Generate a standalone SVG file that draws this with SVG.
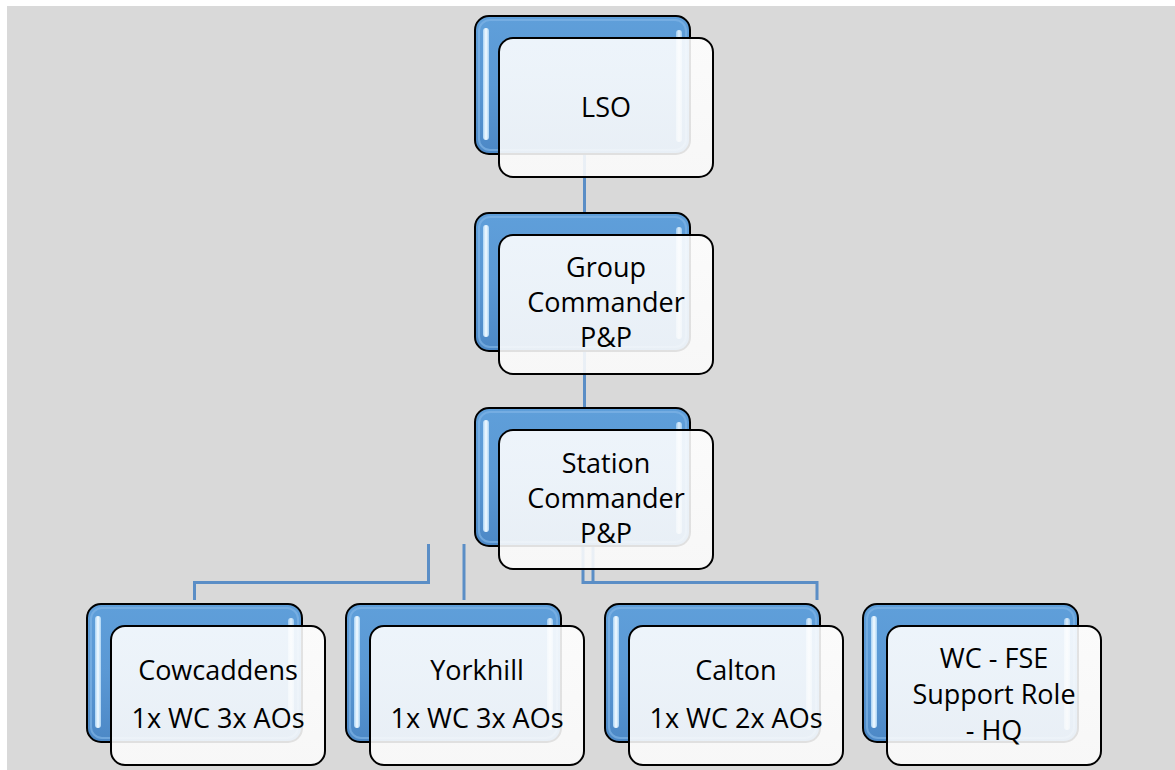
<svg xmlns="http://www.w3.org/2000/svg" width="1175" height="770" viewBox="0 0 1175 770">
<defs>
<linearGradient id="blueG" x1="0" y1="0" x2="0" y2="1">
<stop offset="0" stop-color="#5f9fda"/>
<stop offset="0.5" stop-color="#5a98d4"/>
<stop offset="1" stop-color="#4c88c6"/>
</linearGradient>
<linearGradient id="hiG" x1="0" y1="0" x2="1" y2="0">
<stop offset="0" stop-color="#a9d3f5"/>
<stop offset="0.5" stop-color="#f4fbff"/>
<stop offset="1" stop-color="#a9d3f5"/>
</linearGradient>
<linearGradient id="frontG" x1="0" y1="0" x2="0" y2="1">
<stop offset="0" stop-color="#ffffff"/>
<stop offset="1" stop-color="#fbfbfb"/>
</linearGradient>
<g id="back">
<rect x="0" y="0" width="215" height="138" rx="14" fill="url(#blueG)" stroke="#000" stroke-width="2"/>
<rect x="4" y="4" width="207" height="130" rx="11" fill="none" stroke="#7fb4e6" stroke-width="2" opacity="0.7"/>
<rect x="8" y="12" width="6" height="112" rx="3" fill="url(#hiG)"/>
<rect x="201" y="14" width="6" height="112" rx="3" fill="url(#hiG)" opacity="0.85"/>
</g>
<g id="front">
<rect x="0" y="0" width="214" height="139" rx="14" fill="url(#frontG)" fill-opacity="0.89" stroke="#000" stroke-width="2"/>
</g>
</defs>
<style>
.t{font-family:"Open Sans","Noto Sans","Liberation Sans",sans-serif;font-size:27px;fill:#000;text-anchor:middle}
.c{fill:none;stroke:#5b8ec6;stroke-width:3}
</style>
<rect x="0" y="0" width="1175" height="770" fill="#ffffff"/>
<rect x="7" y="6" width="1168" height="764" fill="#d9d9d9"/>
<g id="connectors">
<path class="c" d="M584.5 154 V213"/>
<path class="c" d="M584.5 349 V408"/>
<path class="c" d="M428.5 544 V582.5 H194.5 V600"/>
<path class="c" d="M464 544 V600"/>
<path class="c" d="M583 546 V582.5 H817 V600"/>
<path class="c" d="M593 546 V582.5"/>
</g>
<g id="lso">
<use href="#back" x="475" y="16"/>
<use href="#front" x="499" y="38"/>
<text class="t" x="606" y="117">LSO</text>
</g>
<g id="group">
<use href="#back" x="475" y="213"/>
<use href="#front" x="499" y="235"/>
<text class="t" x="606" y="277">Group</text>
<text class="t" x="606" y="312">Commander</text>
<text class="t" x="606" y="347">P&amp;P</text>
</g>
<g id="station">
<use href="#back" x="475" y="408"/>
<use href="#front" x="499" y="430"/>
<text class="t" x="606" y="473">Station</text>
<text class="t" x="606" y="508">Commander</text>
<text class="t" x="606" y="543">P&amp;P</text>
</g>
<g id="cowcaddens">
<use href="#back" x="87" y="604"/>
<use href="#front" x="111" y="626"/>
<text class="t" x="218" y="680">Cowcaddens</text>
<text class="t" x="218" y="728">1x WC 3x AOs</text>
</g>
<g id="yorkhill">
<use href="#back" x="346" y="604"/>
<use href="#front" x="370" y="626"/>
<text class="t" x="477" y="680">Yorkhill</text>
<text class="t" x="477" y="728">1x WC 3x AOs</text>
</g>
<g id="calton">
<use href="#back" x="605" y="604"/>
<use href="#front" x="629" y="626"/>
<text class="t" x="736" y="680">Calton</text>
<text class="t" x="736" y="728">1x WC 2x AOs</text>
</g>
<g id="wcfse">
<use href="#back" x="863" y="604"/>
<use href="#front" x="887" y="626"/>
<text class="t" x="994" y="668">WC - FSE</text>
<text class="t" x="994" y="704">Support Role</text>
<text class="t" x="994" y="740">- HQ</text>
</g>
</svg>
